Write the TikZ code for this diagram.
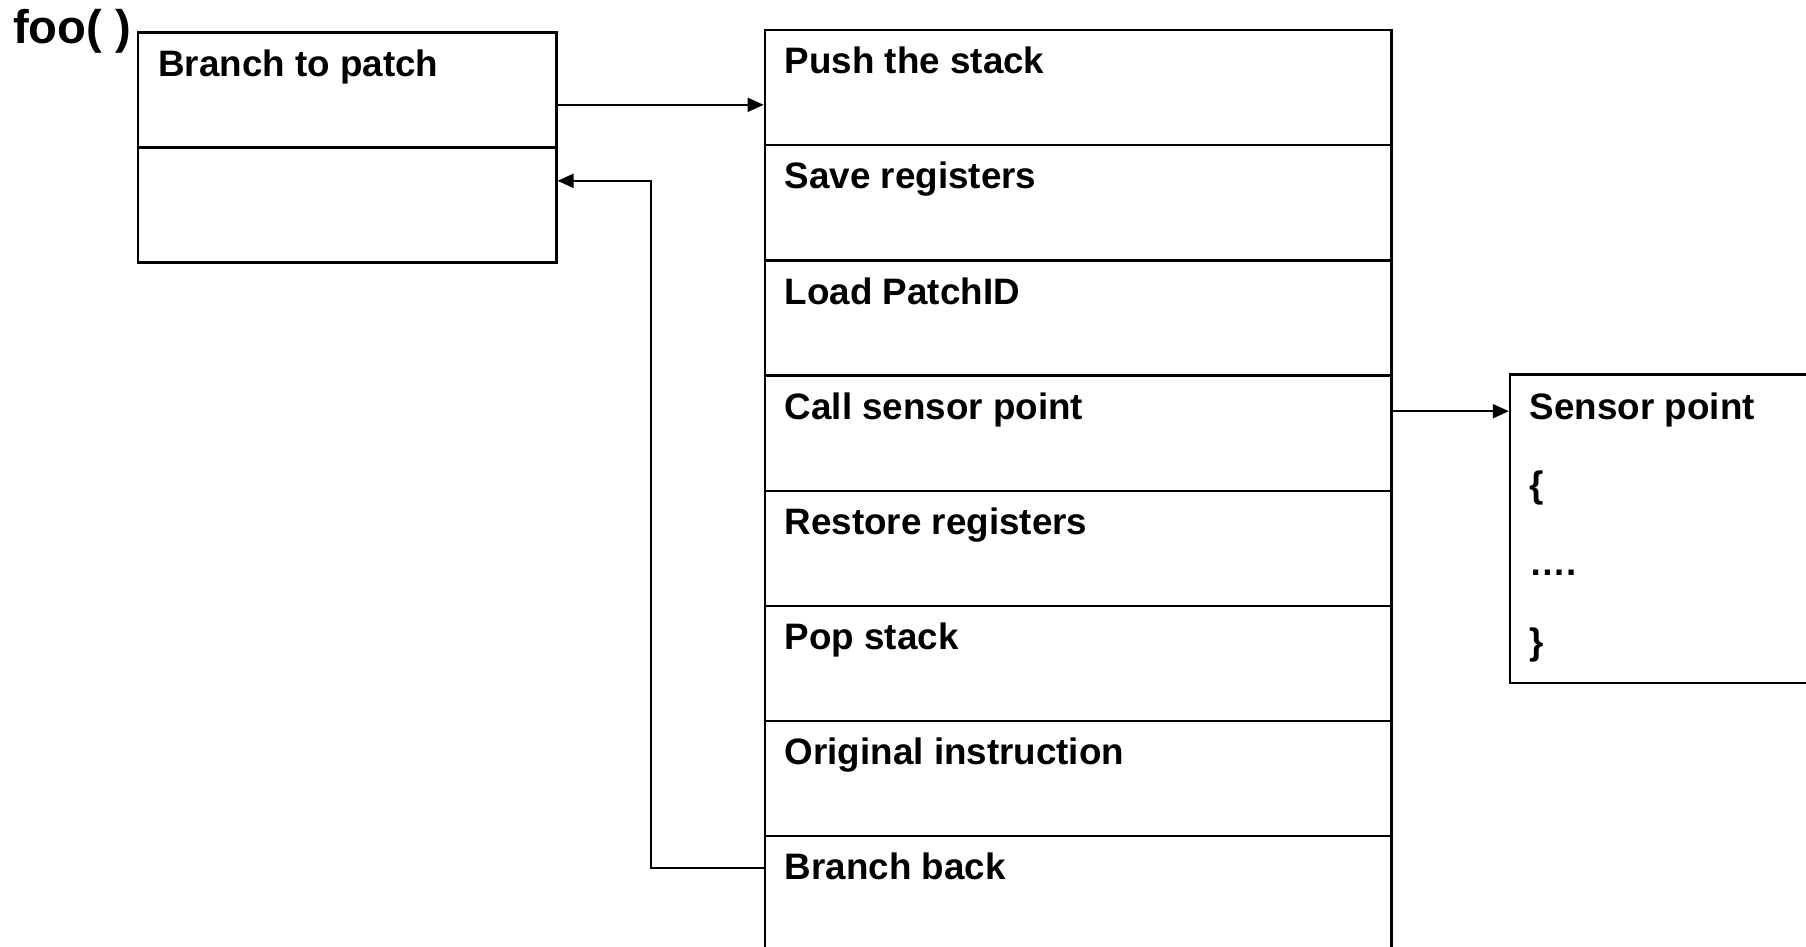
\documentclass[tikz,border=0pt]{standalone}
\usepackage{fontspec}
\setmainfont{Liberation Sans}
\usetikzlibrary{arrows.meta,calc}
\def\pxu{0.576pt}
\begin{document}
\begin{tikzpicture}[x=0.576pt,y=-0.576pt,
  box/.style={draw, line width=1.2pt, rectangle, inner sep=0pt, anchor=north west},
  lbl/.style={anchor=base west, inner sep=0pt, font=\fontsize{18.4}{22}\selectfont\bfseries},
  conn/.style={line width=1pt, -{Triangle[length=8pt,width=7pt]}}]
\useasboundingbox (0,0) rectangle (1568,822);

% caller function with its two instruction slots
\node[anchor=base west, inner sep=0pt, font=\fontsize{23.6}{28}\selectfont\bfseries] (foo) at (11,38) {foo( )};
\node[box, minimum width=363*\pxu, minimum height=100*\pxu] (f1) at (119,27) {};
\node[box, minimum width=363*\pxu, minimum height=100*\pxu] (f2) at (119,127) {};
\node[lbl] (ft) at ($(f1.north west)+(18,39)$) {Branch to patch};

% patch trampoline
\foreach \i/\t in {1/Push the stack,2/Save registers,3/Load PatchID,4/Call sensor point,
                   5/Restore registers,6/Pop stack,7/Original instruction,8/Branch back}{
  \node[box, minimum width=544*\pxu, minimum height=100*\pxu] (r\i) at (663,{25+100*(\i-1)}) {};
  \node[lbl] (t\i) at ($(r\i.north west)+(18,39)$) {\t};
}

% sensor point routine
\node[box, minimum width=300*\pxu, minimum height=268*\pxu] (sp) at (1310,324) {};
\node[lbl] (s1) at ($(sp.north west)+(18,40)$) {Sensor point};
\node[lbl] (s2) at ($(sp.north west)+(18,108)$) {\{};
\node[lbl] (s3) at ($(sp.north west)+(18,176)$) {….};
\node[lbl] (s4) at ($(sp.north west)+(18,244)$) {\}};

% control flow
\draw[conn] ($(f1.north east)+(0,64)$) -- ($(r1.north west)+(0,66)$);
\draw[conn] ($(r4.north east)+(0,32)$) -- ($(sp.north west)+(0,33)$);
\draw[conn] ($(r8.north west)+(0,29)$) -- ++(-98,0) |- ($(f2.north east)+(0,30)$);
\end{tikzpicture}
\end{document}
